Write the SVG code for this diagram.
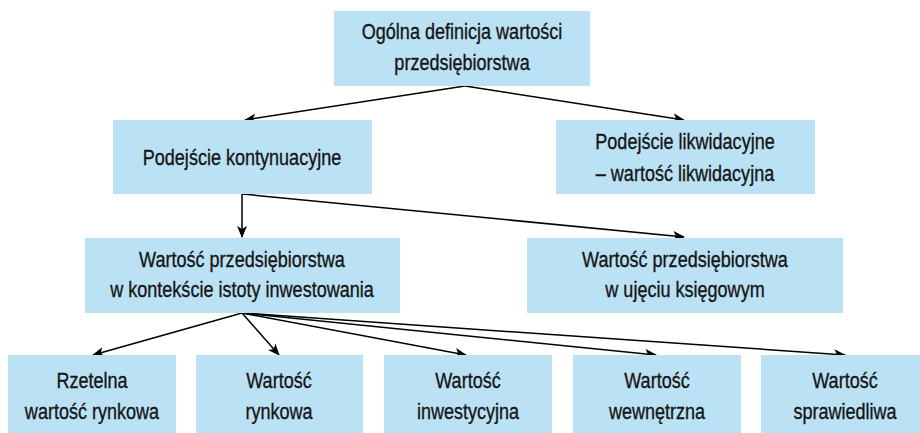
<svg xmlns="http://www.w3.org/2000/svg" width="920" height="433" viewBox="0 0 920 433">
  <style>
    .box { fill: #bbe1f4; }
    .lbl { font-family: "Liberation Sans", Arial, sans-serif; font-size: 22px; fill: #151515; stroke: #151515; stroke-width: 0.35; text-anchor: middle; }
    .link { fill: none; stroke: #000; stroke-width: 1.5; marker-end: url(#arrow); }
  </style>
  <defs>
    <marker id="arrow" viewBox="0 0 12 10" refX="11" refY="5" markerWidth="12" markerHeight="10" markerUnits="userSpaceOnUse" orient="auto">
      <path d="M0,0 L12,5 L0,10 L3,5 z" fill="#000"/>
    </marker>
  </defs>

  <rect width="920" height="433" fill="#fff"/>

  <g id="connectors">
    <path class="link" d="M465,86 L245,120"/>
    <path class="link" d="M465,86 L684,120"/>
    <path class="link" d="M242,194 L242,237"/>
    <path class="link" d="M242,194 L684,237"/>
    <path class="link" d="M242,313 L93,355"/>
    <path class="link" d="M242,313 L279,355"/>
    <path class="link" d="M242,313 L466,355"/>
    <path class="link" d="M242,313 L656,355"/>
    <path class="link" d="M242,313 L845,355"/>
  </g>

  <!-- labels use a horizontally condensed sans (scale 0.82 on x) -->
  <g id="ogolna-definicja">
    <rect class="box" x="334" y="11" width="256" height="75"/>
    <text class="lbl" transform="translate(462 39) scale(0.82 1)">Ogólna definicja wartości</text>
    <text class="lbl" transform="translate(462 70) scale(0.82 1)">przedsiębiorstwa</text>
  </g>

  <g id="podejscie-kontynuacyjne">
    <rect class="box" x="113" y="120" width="259" height="74"/>
    <text class="lbl" transform="translate(242 165) scale(0.82 1)">Podejście kontynuacyjne</text>
  </g>

  <g id="podejscie-likwidacyjne">
    <rect class="box" x="556" y="120" width="259" height="74"/>
    <text class="lbl" transform="translate(685 149) scale(0.82 1)">Podejście likwidacyjne</text>
    <text class="lbl" transform="translate(685 181) scale(0.82 1)">– wartość likwidacyjna</text>
  </g>

  <g id="wartosc-inwestowania">
    <rect class="box" x="85" y="238" width="315" height="75"/>
    <text class="lbl" transform="translate(242 267) scale(0.82 1)">Wartość przedsiębiorstwa</text>
    <text class="lbl" transform="translate(242 297) scale(0.82 1)">w kontekście istoty inwestowania</text>
  </g>

  <g id="wartosc-ksiegowa">
    <rect class="box" x="527" y="238" width="316" height="75"/>
    <text class="lbl" transform="translate(685 267) scale(0.82 1)">Wartość przedsiębiorstwa</text>
    <text class="lbl" transform="translate(685 297) scale(0.82 1)">w ujęciu księgowym</text>
  </g>

  <g id="rzetelna-wartosc-rynkowa">
    <rect class="box" x="8" y="355" width="168" height="78"/>
    <text class="lbl" transform="translate(92 388) scale(0.82 1)">Rzetelna</text>
    <text class="lbl" transform="translate(92 419) scale(0.82 1)">wartość rynkowa</text>
  </g>

  <g id="wartosc-rynkowa">
    <rect class="box" x="196" y="355" width="167" height="78"/>
    <text class="lbl" transform="translate(279 388) scale(0.82 1)">Wartość</text>
    <text class="lbl" transform="translate(279 419) scale(0.82 1)">rynkowa</text>
  </g>

  <g id="wartosc-inwestycyjna">
    <rect class="box" x="384" y="355" width="168" height="78"/>
    <text class="lbl" transform="translate(468 388) scale(0.82 1)">Wartość</text>
    <text class="lbl" transform="translate(468 419) scale(0.82 1)">inwestycyjna</text>
  </g>

  <g id="wartosc-wewnetrzna">
    <rect class="box" x="573" y="355" width="168" height="78"/>
    <text class="lbl" transform="translate(657 388) scale(0.82 1)">Wartość</text>
    <text class="lbl" transform="translate(657 419) scale(0.82 1)">wewnętrzna</text>
  </g>

  <g id="wartosc-sprawiedliwa">
    <rect class="box" x="761" y="355" width="168" height="78"/>
    <text class="lbl" transform="translate(845 388) scale(0.82 1)">Wartość</text>
    <text class="lbl" transform="translate(845 419) scale(0.82 1)">sprawiedliwa</text>
  </g>
</svg>
